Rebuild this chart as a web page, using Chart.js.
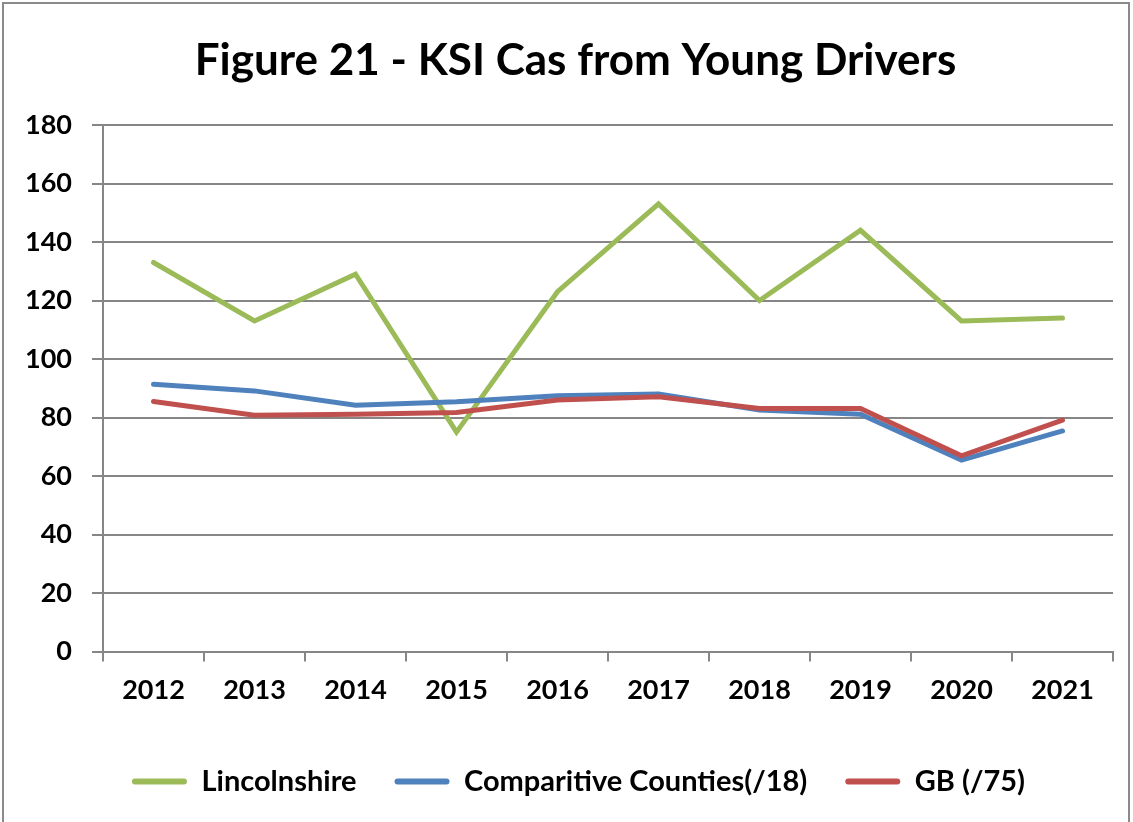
<!DOCTYPE html>
<html>
<head>
<meta charset="utf-8">
<script src="https://cdn.jsdelivr.net/npm/chart.js@4.4.1/dist/chart.umd.min.js"></script>
<style>
    body { margin: 0; background: #fff; overflow: hidden; }
    #frame { position: absolute; left: 2px; top: 2px; width: 1124px; height: 840px; border: 2px solid #8a8a8a; }
    #wrap { position: absolute; left: 0; top: 0; width: 1133px; height: 822px; }
</style>
</head>
<body>
<div id="frame"></div>
<div id="wrap"><canvas id="ksiChart" width="1133" height="822"></canvas></div>
<script>
var years = ['2012', '2013', '2014', '2015', '2016', '2017', '2018', '2019', '2020', '2021'];
var lincolnshire = [133, 113, 129, 75, 123, 153, 120, 144, 113, 114];
var comparitiveCounties = [91.4, 89.1, 84.2, 85.4, 87.4, 88.0, 82.6, 81.1, 65.4, 75.4];
var gb = [85.5, 80.8, 81.1, 81.7, 86.0, 87.1, 83.1, 83.1, 66.9, 79.1];
var yTicks = [0, 20, 40, 60, 80, 100, 120, 140, 160, 180];

var gridColor = '#868686';
var fontFamily = 'Lato, "Open Sans", sans-serif';

function makeLine(label, data, color, order) {
    return {
        label: label,
        data: data,
        borderColor: color,
        backgroundColor: color,
        borderWidth: 5,
        pointRadius: 0,
        tension: 0,
        borderCapStyle: 'round',
        borderJoinStyle: 'miter',
        order: order
    };
}

// title and legend sit a bit right of the canvas centre in the original
var shiftBlocks = {
    id: 'shiftBlocks',
    afterLayout: function(chart) {
        chart.titleBlock.left += 19;
        chart.titleBlock.right += 19;
        chart.legend.left += 22;
        chart.legend.right += 22;
    }
};

var ctx = document.getElementById('ksiChart').getContext('2d');

var ksiChart = new Chart(ctx, {
    type: 'line',
    data: {
        labels: years,
        datasets: [
            makeLine('Lincolnshire', lincolnshire, '#9BBB59', 3),
            makeLine('Comparitive Counties(/18)', comparitiveCounties, '#4F81BD', 2),
            makeLine('GB (/75)', gb, '#C0504D', 1)
        ]
    },
    options: {
        responsive: false,
        animation: false,
        layout: {
            padding: { left: 0, right: 20, top: 0, bottom: 16 }
        },
        scales: {
            x: {
                offset: true,
                grid: {
                    offset: true,
                    drawOnChartArea: false,
                    color: gridColor,
                    lineWidth: 2,
                    tickLength: 10
                },
                border: { color: gridColor, width: 2 },
                ticks: {
                    color: '#000',
                    padding: 13,
                    maxRotation: 0,
                    font: { family: fontFamily, size: 27, weight: 'bold' }
                },
                afterFit: function(scale) {
                    scale.height = 77.5;
                }
            },
            y: {
                min: 0,
                max: 180,
                afterBuildTicks: function(scale) {
                    scale.ticks = yTicks.map(function(v) { return { value: v }; });
                },
                grid: {
                    color: gridColor,
                    lineWidth: 2,
                    tickLength: 11
                },
                border: { color: gridColor, width: 2 },
                ticks: {
                    color: '#000',
                    padding: 20,
                    font: { family: fontFamily, size: 27, weight: 'bold' }
                },
                afterFit: function(scale) {
                    scale.width = 103;
                }
            }
        },
        plugins: {
            title: {
                display: true,
                text: 'Figure 21 - KSI Cas from Young Drivers',
                color: '#000',
                font: { family: fontFamily, size: 44, weight: 'bold', lineHeight: 1.2 },
                padding: { top: 34, bottom: 38.2 }
            },
            legend: {
                position: 'bottom',
                labels: {
                    color: '#000',
                    boxWidth: 55,
                    boxHeight: 6,
                    padding: 38,
                    useBorderRadius: true,
                    borderRadius: 3,
                    font: { family: fontFamily, size: 29, weight: 'bold' },
                    sort: function(a, b) { return a.datasetIndex - b.datasetIndex; },
                    generateLabels: function(chart) {
                        var items = Chart.defaults.plugins.legend.labels.generateLabels(chart);
                        items.forEach(function(item) { item.lineWidth = 0; });
                        return items;
                    }
                }
            },
            tooltip: { enabled: false }
        }
    },
    plugins: [shiftBlocks]
});
</script>
</body>
</html>
